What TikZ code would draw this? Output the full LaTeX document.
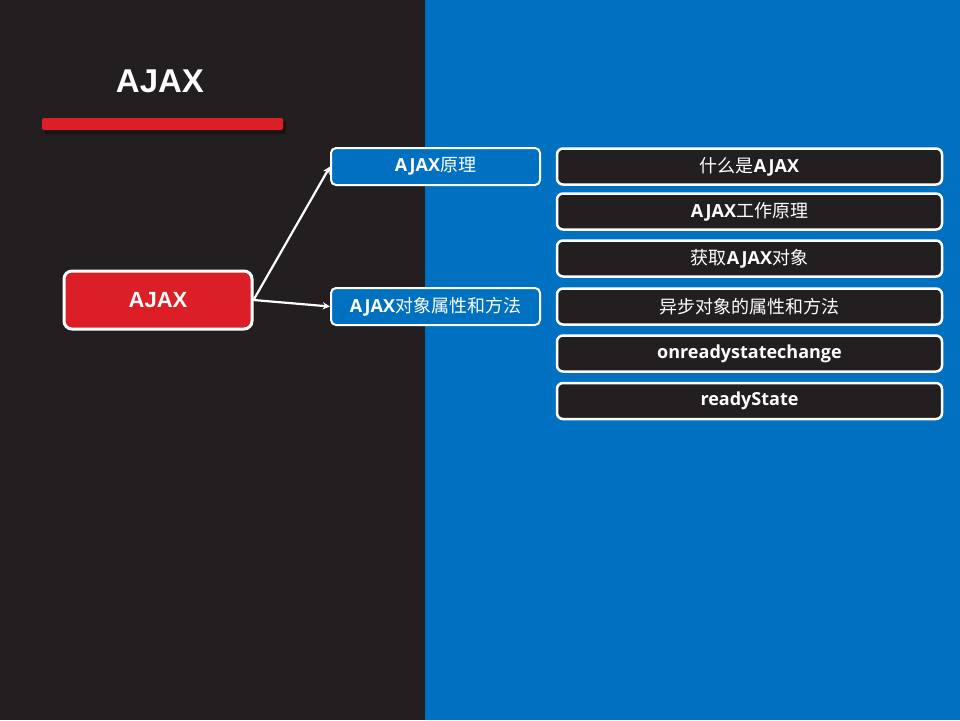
\documentclass[tikz,border=0pt]{standalone}
\usepackage{fontspec}
\setmainfont{Open Sans}
\newfontfamily\cjk{Noto Sans CJK SC}
\newfontfamily\headfont{Liberation Sans}
\definecolor{ajaxred}{HTML}{DC1F26}
\definecolor{darkbg}{HTML}{231F20}
\definecolor{blueside}{HTML}{0070C0}
\newcommand{\lat}[1]{{\bfseries #1}}
\begin{document}
\begin{tikzpicture}[x=1pt,y=-1pt,>=stealth,
  mainbox/.style={draw=white,line width=3pt,rounded corners=8pt,fill=ajaxred,
    minimum width=188pt,minimum height=58pt,text=white,font=\headfont\fontsize{22}{26}\selectfont\bfseries},
  topicbox/.style={draw=white,line width=2pt,rounded corners=5pt,fill=blueside,
    minimum width=209pt,minimum height=37pt,text=white,font=\fontsize{18}{21}\selectfont},
  itembox/.style={draw=white,line width=2.5pt,rounded corners=6pt,fill=darkbg,
    minimum width=385pt,minimum height=36pt,text=white,font=\fontsize{18}{21}\selectfont},
  link/.style={->,draw=white,line width=2.2pt}]
\useasboundingbox (0,0) rectangle (960,720);
\fill[darkbg] (0,0) rectangle (425,720);
\fill[blueside] (425,0) rectangle (960,720);
% title
\node[text=white,font=\headfont\fontsize{33}{38}\selectfont\bfseries] (title) at (160,81) {AJAX};
\fill[black,opacity=0.35,rounded corners=2pt] (44,121) rectangle (286,134);
\fill[ajaxred,rounded corners=2pt] (42,118) rectangle (283,130);
% mind map
\node[mainbox] (ajax) at (158,300) {AJAX};
\node[topicbox] (principle) at (435.5,166.5) {\lat{AJAX}{\cjk 原理}};
\node[topicbox] (object) at (435.5,306.5) {\lat{AJAX}{\cjk 对象属性和方法}};
\draw[link] (ajax.east) -- (principle.west);
\draw[link] (ajax.east) -- (object.west);
% right column
\node[itembox] (what) at (749.5,166.5) {{\cjk 什么是}\lat{AJAX}};
\node[itembox] (how) at (749.5,211.5) {\lat{AJAX}{\cjk 工作原理}};
\node[itembox] (get) at (749.5,258.5) {{\cjk 获取}\lat{AJAX}{\cjk 对象}};
\node[itembox] (props) at (749.5,306.5) {\cjk 异步对象的属性和方法};
\node[itembox] (change) at (749.5,353.5) {\lat{onreadystatechange}};
\node[itembox] (state) at (749.5,401) {\lat{readyState}};
\end{tikzpicture}
\end{document}
